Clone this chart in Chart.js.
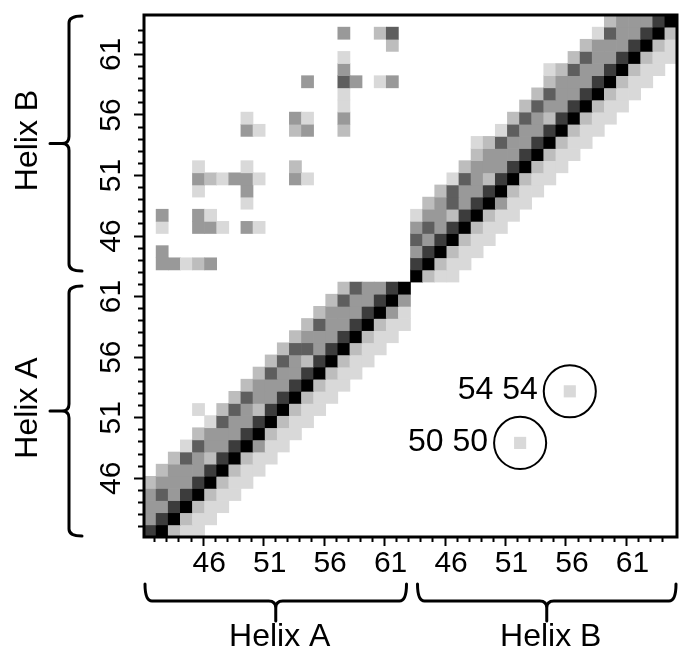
<!DOCTYPE html>
<html>
<head>
<meta charset="utf-8">
<script src="https://cdn.jsdelivr.net/npm/chart.js@4.4.1/dist/chart.umd.min.js"></script>
<style>
html,body{margin:0;padding:0;background:#ffffff;overflow:hidden;}
#box{position:relative;width:679px;height:654px;}
</style>
</head>
<body>
<div id="box"><canvas id="chart" width="679" height="654"></canvas></div>
<script>
// ---- data ----
const grayLevels = ['#ffffff', '#d9d9d9', '#bdbdbd', '#999999', '#5e5e5e', '#3c3c3c', '#000000'];
const gridColumns = 44;
const gridRows = 43;
// one entry per row (row 0 = bottom); each run = [first column, levels]
const cellRuns = [
  [[0, "56211"]],
  [[0, "356211"]],
  [[0, "3356211"]],
  [[0, "34356211"]],
  [[0, "233356211"]],
  [[1, "233356211"]],
  [[2, "243256211"]],
  [[3, "143356311"]],
  [[4, "233356211"]],
  [[5, "143356211"]],
  [[4, "1"], [6, "243256211"]],
  [[7, "243356211"]],
  [[8, "233356211"]],
  [[9, "243356211"]],
  [[10, "243256211"]],
  [[11, "244356211"]],
  [[12, "233356211"]],
  [[13, "243356211"]],
  [[14, "23335631"]],
  [[15, "2433563"]],
  [[16, "243356"]],
  [[22, "6211"]],
  [[1, "33123"], [22, "56211"]],
  [[1, "3"], [22, "356211"]],
  [[22, "4356211"]],
  [[1, "100331031"], [22, "34356211"]],
  [[1, "30031"], [22, "133256211"]],
  [[8, "1"], [23, "234356311"]],
  [[4, "10003"], [24, "243356211"]],
  [[4, "3213310031"], [25, "143256211"]],
  [[4, "100010002"], [26, "233356211"]],
  [[27, "233356211"]],
  [[27, "1243356211"]],
  [[8, "310023002"], [29, "143356211"]],
  [[8, "100031003"], [30, "243256211"]],
  [[16, "1"], [31, "243356211"]],
  [[16, "1"], [32, "243356211"]],
  [[13, "30043013"], [33, "233356211"]],
  [[16, "3"], [33, "1243356211"]],
  [[16, "1"], [35, "243356211"]],
  [[20, "2"], [36, "23335621"]],
  [[16, "30024"], [37, "1433562"]],
  [[38, "233356"]]
];
const residueTickCount = 42;
const xTickLabels = ['46', '51', '56', '61', '46', '51', '56', '61'];
const yTickLabels = ['46', '51', '56', '61', '46', '51', '56', '61'];
const helixNames = ['Helix A', 'Helix B'];
const helixColumnSpans = [[0, 22], [22, 44]];
const helixRowSpans = [[0, 21], [21, 43]];
// circled cells: centre in grid units, level
const markedCells = [
  { text: '54 54', col: 35.15, row: 12.0, level: 1 },
  { text: '50 50', col: 31.05, row: 7.75, level: 1 }
];

// ---- build cells from the arrays ----
const cells = [];
cellRuns.forEach((runs, row) => {
  runs.forEach(([start, levels]) => {
    [...levels].forEach((ch, k) => {
      const v = Number(ch);
      if (v > 0) cells.push({ x: start + k + 0.5, y: [row, row + 1], level: v });
    });
  });
});

const FONT = '"Liberation Sans", Arial, Helvetica, sans-serif';
Chart.defaults.font.family = FONT;
Chart.defaults.color = '#000000';

function isMajor(v) { return v % 5 === 4; }

const decorations = {
  id: 'decorations',
  afterDatasetsDraw(chart) {
    const { ctx, chartArea: a, scales: { x, y } } = chart;
    ctx.save();
    ctx.strokeStyle = '#000';
    ctx.lineWidth = 2;
    ctx.font = '32px ' + FONT;
    ctx.textAlign = 'right';
    ctx.textBaseline = 'middle';
    const r = x.getPixelForValue(2.15) - x.getPixelForValue(0);
    markedCells.forEach(m => {
      const cx = x.getPixelForValue(m.col);
      const cy = y.getPixelForValue(m.row);
      const x0 = x.getPixelForValue(m.col - 0.5), x1 = x.getPixelForValue(m.col + 0.5);
      const y0 = y.getPixelForValue(m.row + 0.5), y1 = y.getPixelForValue(m.row - 0.5);
      ctx.fillStyle = grayLevels[m.level];
      ctx.fillRect(x0, y0, x1 - x0, y1 - y0);
      ctx.beginPath();
      ctx.arc(cx, cy, r, 0, Math.PI * 2);
      ctx.stroke();
      ctx.fillStyle = '#000';
      ctx.fillText(m.text, cx - r - 6, cy - 1);
    });
    ctx.lineWidth = 3;
    ctx.strokeRect(a.left, a.top, a.right - a.left, a.bottom - a.top);
    ctx.restore();
  },
  afterDraw(chart) {
    const { ctx, scales: { x, y } } = chart;
    ctx.save();
    ctx.strokeStyle = '#000';
    ctx.fillStyle = '#000';
    ctx.lineWidth = 3;
    ctx.lineCap = 'round';
    const rr = 7;
    // bottom braces
    const y0 = 584, y1 = 601, y2 = 621;
    helixColumnSpans.forEach((span, g) => {
      const x1 = x.getPixelForValue(span[0]) + (g === 0 ? 1 : 7);
      const x2 = x.getPixelForValue(span[1]) - (g === 0 ? 4 : 1);
      const xc = (x1 + x2) / 2;
      ctx.beginPath();
      ctx.moveTo(x1, y0);
      ctx.quadraticCurveTo(x1, y1, x1 + rr, y1);
      ctx.lineTo(xc - rr, y1);
      ctx.quadraticCurveTo(xc, y1, xc, y1 + rr);
      ctx.lineTo(xc, y2);
      ctx.moveTo(xc, y1 + rr);
      ctx.quadraticCurveTo(xc, y1, xc + rr, y1);
      ctx.lineTo(x2 - rr, y1);
      ctx.quadraticCurveTo(x2, y1, x2, y0);
      ctx.stroke();
      ctx.font = '32px ' + FONT;
      ctx.textAlign = 'center';
      ctx.textBaseline = 'middle';
      ctx.fillText(helixNames[g], xc + 4, 637);
    });
    // left braces
    const x0 = 82, xm = 69, xt = 50;
    helixRowSpans.forEach((span, g) => {
      const ya = y.getPixelForValue(span[0]) - (g === 0 ? 1 : 11);
      const yb = y.getPixelForValue(span[1]) + (g === 0 ? 4 : 1);
      const yc = (ya + yb) / 2;
      ctx.beginPath();
      ctx.moveTo(x0, ya);
      ctx.quadraticCurveTo(xm, ya, xm, ya - rr);
      ctx.lineTo(xm, yc + rr);
      ctx.quadraticCurveTo(xm, yc, xm - rr, yc);
      ctx.lineTo(xt, yc);
      ctx.moveTo(xm - rr, yc);
      ctx.quadraticCurveTo(xm, yc, xm, yc - rr);
      ctx.lineTo(xm, yb + rr);
      ctx.quadraticCurveTo(xm, yb, x0, yb);
      ctx.stroke();
      ctx.save();
      ctx.translate(28, yc - 3);
      ctx.rotate(-Math.PI / 2);
      ctx.font = '32px ' + FONT;
      ctx.textAlign = 'center';
      ctx.textBaseline = 'middle';
      ctx.fillText(helixNames[g], 0, 0);
      ctx.restore();
    });
    ctx.restore();
  }
};

new Chart(document.getElementById('chart'), {
  type: 'bar',
  data: {
    datasets: [{
      data: cells,
      backgroundColor: c => grayLevels[c.raw ? c.raw.level : 0],
      borderWidth: 0,
      barPercentage: 1,
      categoryPercentage: 1
    }]
  },
  options: {
    responsive: false,
    animation: false,
    events: [],
    layout: { padding: { left: 100, right: 2, top: 15, bottom: 67 } },
    plugins: { legend: { display: false }, tooltip: { enabled: false } },
    scales: {
      x: { type: 'linear', min: 0, max: gridColumns, offset: false, display: false,
           grid: { offset: false }, ticks: { stepSize: 1 } },
      y: { type: 'linear', min: 0, max: gridRows, display: false, beginAtZero: false },
      xt: {
        type: 'linear', axis: 'x', position: 'bottom', min: -0.8636, max: 42.155,
        afterBuildTicks: s => { s.ticks = s.ticks.filter(t => t.value >= 0 && t.value < residueTickCount); },
        ticks: {
          stepSize: 1, autoSkip: false, includeBounds: false, maxRotation: 0, minRotation: 0,
          padding: 3, font: { size: 30, lineHeight: 1 }, color: '#000',
          callback: v => (isMajor(v) ? xTickLabels[(v - 4) / 5] : '')
        },
        grid: {
          drawOnChartArea: false, drawTicks: true, tickLength: 9, tickWidth: 2, tickColor: '#000',
          tickBorderDash: c => (c.tick && isMajor(c.tick.value) ? [] : [5, 40])
        },
        border: { display: false },
        afterFit: s => { s.height = 50; s.paddingLeft = 0; s.paddingRight = 0; }
      },
      yt: {
        type: 'linear', axis: 'y', position: 'left', min: -0.8505, max: 42.254,
        afterBuildTicks: s => { s.ticks = s.ticks.filter(t => t.value >= 0 && t.value < residueTickCount); },
        ticks: {
          stepSize: 1, autoSkip: false, includeBounds: false, minRotation: 90, maxRotation: 90,
          crossAlign: 'center', padding: 6, font: { size: 30, lineHeight: 1 }, color: '#000',
          callback: v => (isMajor(v) ? yTickLabels[(v - 4) / 5] : '')
        },
        grid: {
          drawOnChartArea: false, drawTicks: true, tickLength: 10, tickWidth: 2, tickColor: '#000',
          tickBorderDash: c => (c.tick && isMajor(c.tick.value) ? [] : [0, 4, 6, 40])
        },
        border: { display: false },
        afterFit: s => { s.width = 44; s.paddingTop = 0; s.paddingBottom = 0; }
      }
    }
  },
  plugins: [decorations]
});
</script>
</body>
</html>
